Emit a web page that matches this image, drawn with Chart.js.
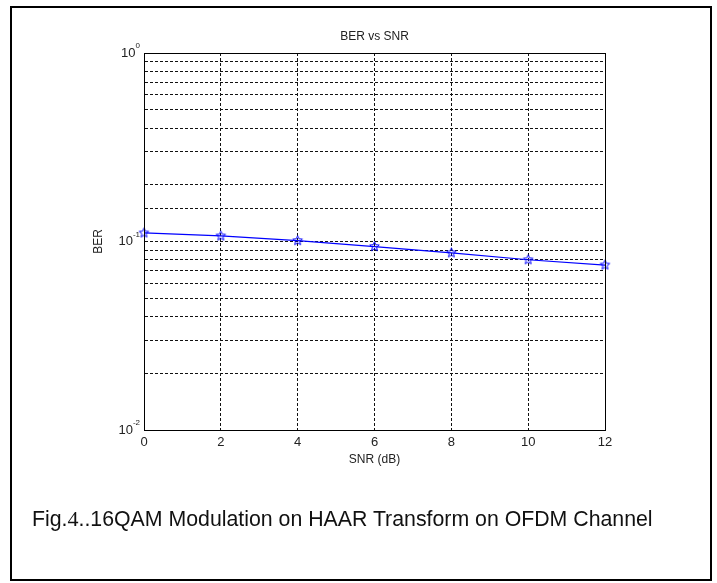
<!DOCTYPE html>
<html>
<head>
<meta charset="utf-8">
<script src="https://cdn.jsdelivr.net/npm/chart.js@4/dist/chart.umd.min.js"></script>
<style>
  body { margin: 0; background: #fff; }
  #wrap { position: relative; width: 717px; height: 583px; }
  #frame { position: absolute; left: 10px; top: 6px; width: 702px; height: 575px; box-sizing: border-box; border: 2px solid #000; }
  #caption { position: absolute; left: 32px; top: 506px; font: 21.3px "Liberation Sans", Arial, sans-serif; color: #111; white-space: nowrap; }
  #caption .num { font-family: "Liberation Serif", "DejaVu Serif", serif; font-size: 22px; }
  canvas { position: absolute; left: 0; top: 0; }
</style>
</head>
<body>
<div id="wrap">
  <canvas id="myChart" width="717" height="583"></canvas>
  <div id="frame"></div>
  <div id="caption">Fig.<span class="num">4</span>..16QAM Modulation on HAAR Transform on OFDM Channel</div>
</div>
<script>
// SNR in dB and the measured bit error rate
let snr = [0, 2, 4, 6, 8, 10, 12];
let ber = [0.111, 0.107, 0.101, 0.094, 0.087, 0.080, 0.075];
// decades labelled on the log axis
let decades = [1, 0.1, 0.01];
let decadeExp = ['0', '-1', '-2'];

let font = '"Liberation Sans", Arial, sans-serif';
let gridColor = '#111';

// five pointed star marker, outline only
function pentagram(r) {
  const c = document.createElement('canvas');
  const size = Math.ceil(r * 2 + 3);
  c.width = size; c.height = size;
  const g = c.getContext('2d');
  g.strokeStyle = '#0000ff';
  g.lineWidth = 1;
  g.beginPath();
  for (let k = 0; k < 10; k++) {
    const rr = k % 2 === 0 ? r : r * 0.45;
    const ang = -Math.PI / 2 + k * Math.PI / 5;
    const px = size / 2 + rr * Math.cos(ang);
    const py = size / 2 + rr * Math.sin(ang);
    if (k === 0) g.moveTo(px, py); else g.lineTo(px, py);
  }
  g.closePath();
  g.stroke();
  return c;
}

// box around the plot, title and 10^n labels with raised exponents
const axesBox = {
  id: 'axesBox',
  afterDraw(chart) {
    const ctx = chart.ctx;
    const a = chart.chartArea;
    ctx.save();
    ctx.strokeStyle = '#000';
    ctx.lineWidth = 1;
    ctx.strokeRect(Math.round(a.left) + 0.5, Math.round(a.top) + 0.5,
      Math.round(a.right - a.left), Math.round(a.bottom - a.top));

    ctx.fillStyle = '#222';
    ctx.textBaseline = 'middle';
    ctx.textAlign = 'center';
    ctx.font = '12px ' + font;
    ctx.fillText('BER vs SNR', (a.left + a.right) / 2, 37);

    const y = chart.scales.y;
    decades.forEach((v, i) => {
      const py = y.getPixelForValue(v);
      ctx.font = '8px ' + font;
      const ew = ctx.measureText(decadeExp[i]).width;
      ctx.textAlign = 'right';
      const right = a.left - 4;
      ctx.fillText(decadeExp[i], right, py - 7);
      ctx.font = '13px ' + font;
      ctx.fillText('10', right - ew, py);
    });
    ctx.restore();
  }
};

const ctx = document.getElementById('myChart').getContext('2d');
const myChart = new Chart(ctx, {
  type: 'line',
  data: {
    labels: snr,
    datasets: [{
      label: 'BER',
      data: snr.map((s, i) => ({ x: s, y: ber[i] })),
      borderColor: '#0000ff',
      borderWidth: 1.2,
      pointStyle: pentagram(5),
      pointRadius: 5,
      tension: 0,
      clip: false
    }]
  },
  options: {
    responsive: false,
    animation: false,
    layout: { padding: { left: 0, top: 53, right: 112, bottom: 113 } },
    plugins: {
      legend: { display: false },
      tooltip: { enabled: false },
      title: { display: false }
    },
    scales: {
      x: {
        type: 'linear',
        min: 0,
        max: 12,
        afterFit: s => { s.height = 40; },
        ticks: { stepSize: 2, color: '#222', padding: 5, font: { family: font, size: 13 } },
        grid: { color: gridColor, borderDash: [3, 2], drawTicks: false, lineWidth: 1 },
        border: { display: true, color: '#000', dash: [3, 2] },
        title: { display: true, text: 'SNR (dB)', color: '#222', font: { family: font, size: 12 }, padding: { bottom: 3 } }
      },
      y: {
        type: 'logarithmic',
        min: 0.01,
        max: 1,
        afterFit: s => { s.width = 144; },
        ticks: { display: false },
        grid: { color: gridColor, drawTicks: false, lineWidth: 1 },
        border: { display: true, color: '#000', dash: [3, 2] },
        title: { display: true, text: 'BER', color: '#222', font: { family: font, size: 12 }, padding: { top: 91 } }
      }
    }
  },
  plugins: [axesBox]
});
</script>
</body>
</html>
